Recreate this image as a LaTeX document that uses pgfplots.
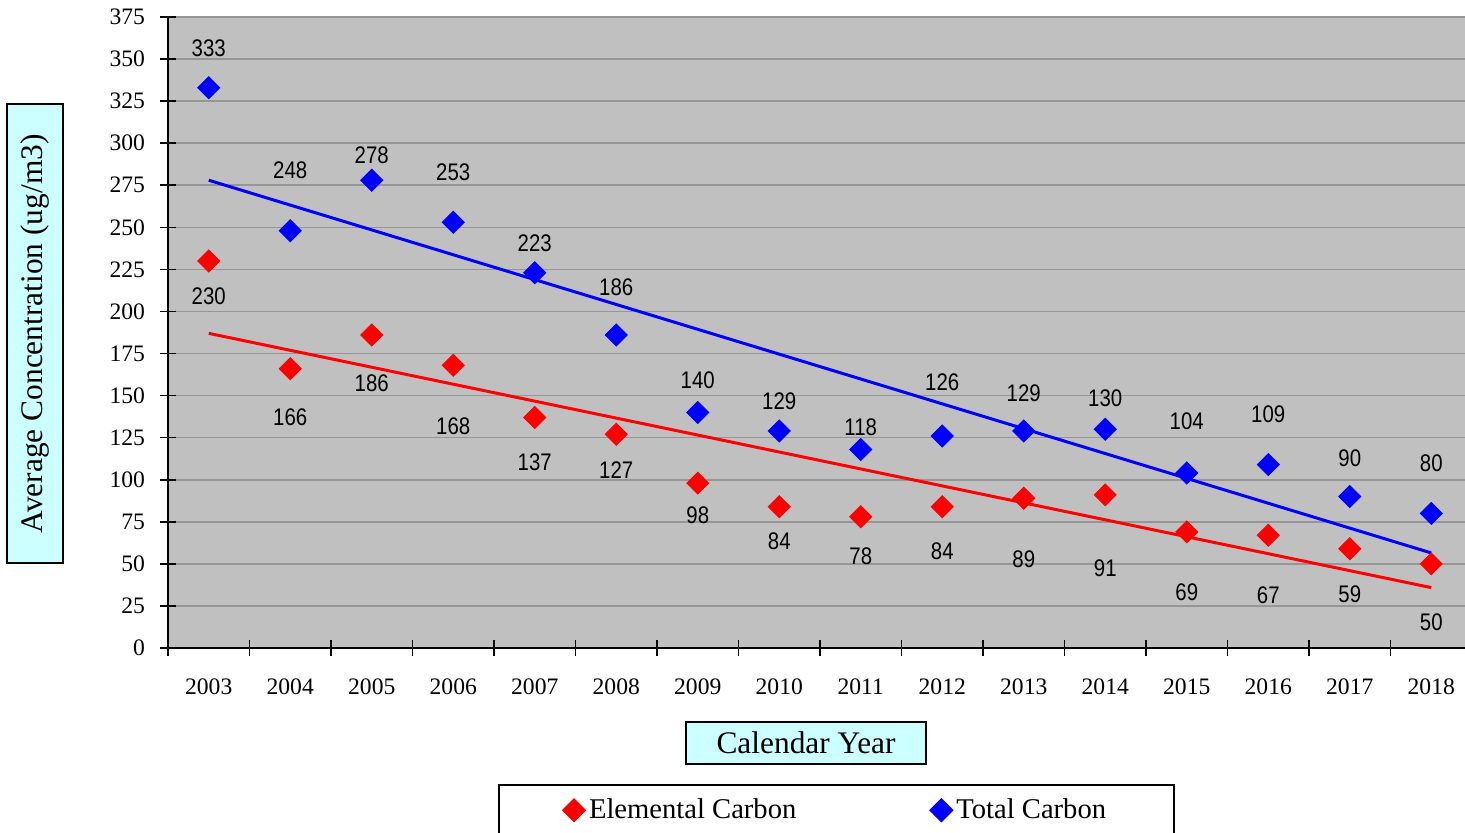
\documentclass[border=0pt]{standalone}
\usepackage{pgfplots}
\usepackage{pgfplotstable}
\pgfplotsset{compat=1.18}
\usepackage{fontspec}
\setmainfont{Liberation Serif}
\newfontfamily\narrow[FakeStretch=0.85]{Liberation Sans}
\definecolor{plotbg}{HTML}{C0C0C0}
\definecolor{gridc}{HTML}{969696}
\definecolor{boxc}{HTML}{CCFFFF}

% x = year index (1 = 2003), label shifts in pt
\pgfplotstableread{
x  ec   ecdy   tc   tcdy
1  230  -17.5  333  19.5
2  166  -24.5  248  30
3  186  -24    278  12.5
4  168  -30.5  253  25
5  137  -22.5  223  15
6  127  -18    186  24
7  98   -16    140  16
8  84   -17.5  129  15
9  78   -19.5  118  11
10 84   -22.5  126  27
11 89   -30.5  129  19
12 91   -36.5  130  15.5
13 69   -30    104  26
14 67   -30    109  25
15 59   -23    90   19
16 50   -29    80   25
}\data

\begin{document}
\begin{tikzpicture}
\useasboundingbox (-84pt,-92pt) rectangle (648.5pt,324pt);
\begin{axis}[
  scale only axis,
  width=652pt, height=315.5pt,
  xmin=0.5, xmax=16.5,
  ymin=0, ymax=375,
  axis x line*=bottom, axis y line*=left,
  axis line style={line width=1pt},
  axis background/.style={fill=plotbg},
  xtick={1,...,16},
  xticklabels={2003,2004,2005,2006,2007,2008,2009,2010,2011,2012,2013,2014,2015,2016,2017,2018},
  major x tick style={draw=none},
  minor xtick={0.5,1.5,...,16.5},
  ytick={0,25,...,375},
  tick align=center,
  major tick length=8pt, minor tick length=8pt,
  tick style={black, line width=0.8pt},
  ymajorgrids,
  grid style={gridc, line width=0.8pt},
  /pgf/number format/assume math mode=true,
  ticklabel style={font=\fontsize{11.8}{13}\selectfont},
  xticklabel style={yshift=-8pt},
  yticklabel style={xshift=-4pt},
  ylabel={Average Concentration (ug/m3)},
  ylabel style={at={(axis description cs:-0.102,0.498)}, anchor=center,
    draw=black, line width=1pt, fill=boxc, minimum width=229.5pt, minimum height=28pt,
    inner sep=0pt, font=\fontsize{15.7}{17}\selectfont},
  xlabel={Calendar Year},
  xlabel style={at={(axis description cs:0.4893,-0.1506)}, anchor=center,
    draw=black, line width=1pt, fill=boxc, minimum width=120pt, minimum height=21pt,
    inner sep=0pt, font=\fontsize{15.7}{17}\selectfont},
  legend columns=2,
  legend style={at={(axis description cs:0.5127,-0.2155)}, anchor=north,
    draw=black, line width=0.8pt, fill=white, inner xsep=32pt, inner ysep=5pt,
    font=\fontsize{14.3}{16}\selectfont,
    /tikz/every even column/.append style={column sep=65pt}},
  legend image code/.code={\draw[#1] plot coordinates {(0pt,0pt)};},
]
\addplot[red, only marks, mark=square*, mark size=3.9pt, mark options={rotate=45},
  nodes near coords, visualization depends on={\thisrow{ecdy}\as\dy},
  every node near coord/.style={anchor=center, yshift=\dy pt, text=black, font=\narrow\fontsize{12}{13}\selectfont}]
  table[x=x, y=ec]{\data};
\addlegendentry{Elemental Carbon}
\addplot[blue, only marks, mark=square*, mark size=3.9pt, mark options={rotate=45},
  nodes near coords, visualization depends on={\thisrow{tcdy}\as\dy},
  every node near coord/.style={anchor=center, yshift=\dy pt, text=black, font=\narrow\fontsize{12}{13}\selectfont}]
  table[x=x, y=tc]{\data};
\addlegendentry{Total Carbon}
% linear trend lines (least squares fit endpoints)
\addplot[red, line width=1.5pt, forget plot] coordinates {(1,187.0) (16,35.9)};
\addplot[blue, line width=1.5pt, forget plot] coordinates {(1,278.0) (16,56.5)};
\end{axis}
\end{tikzpicture}
\end{document}
